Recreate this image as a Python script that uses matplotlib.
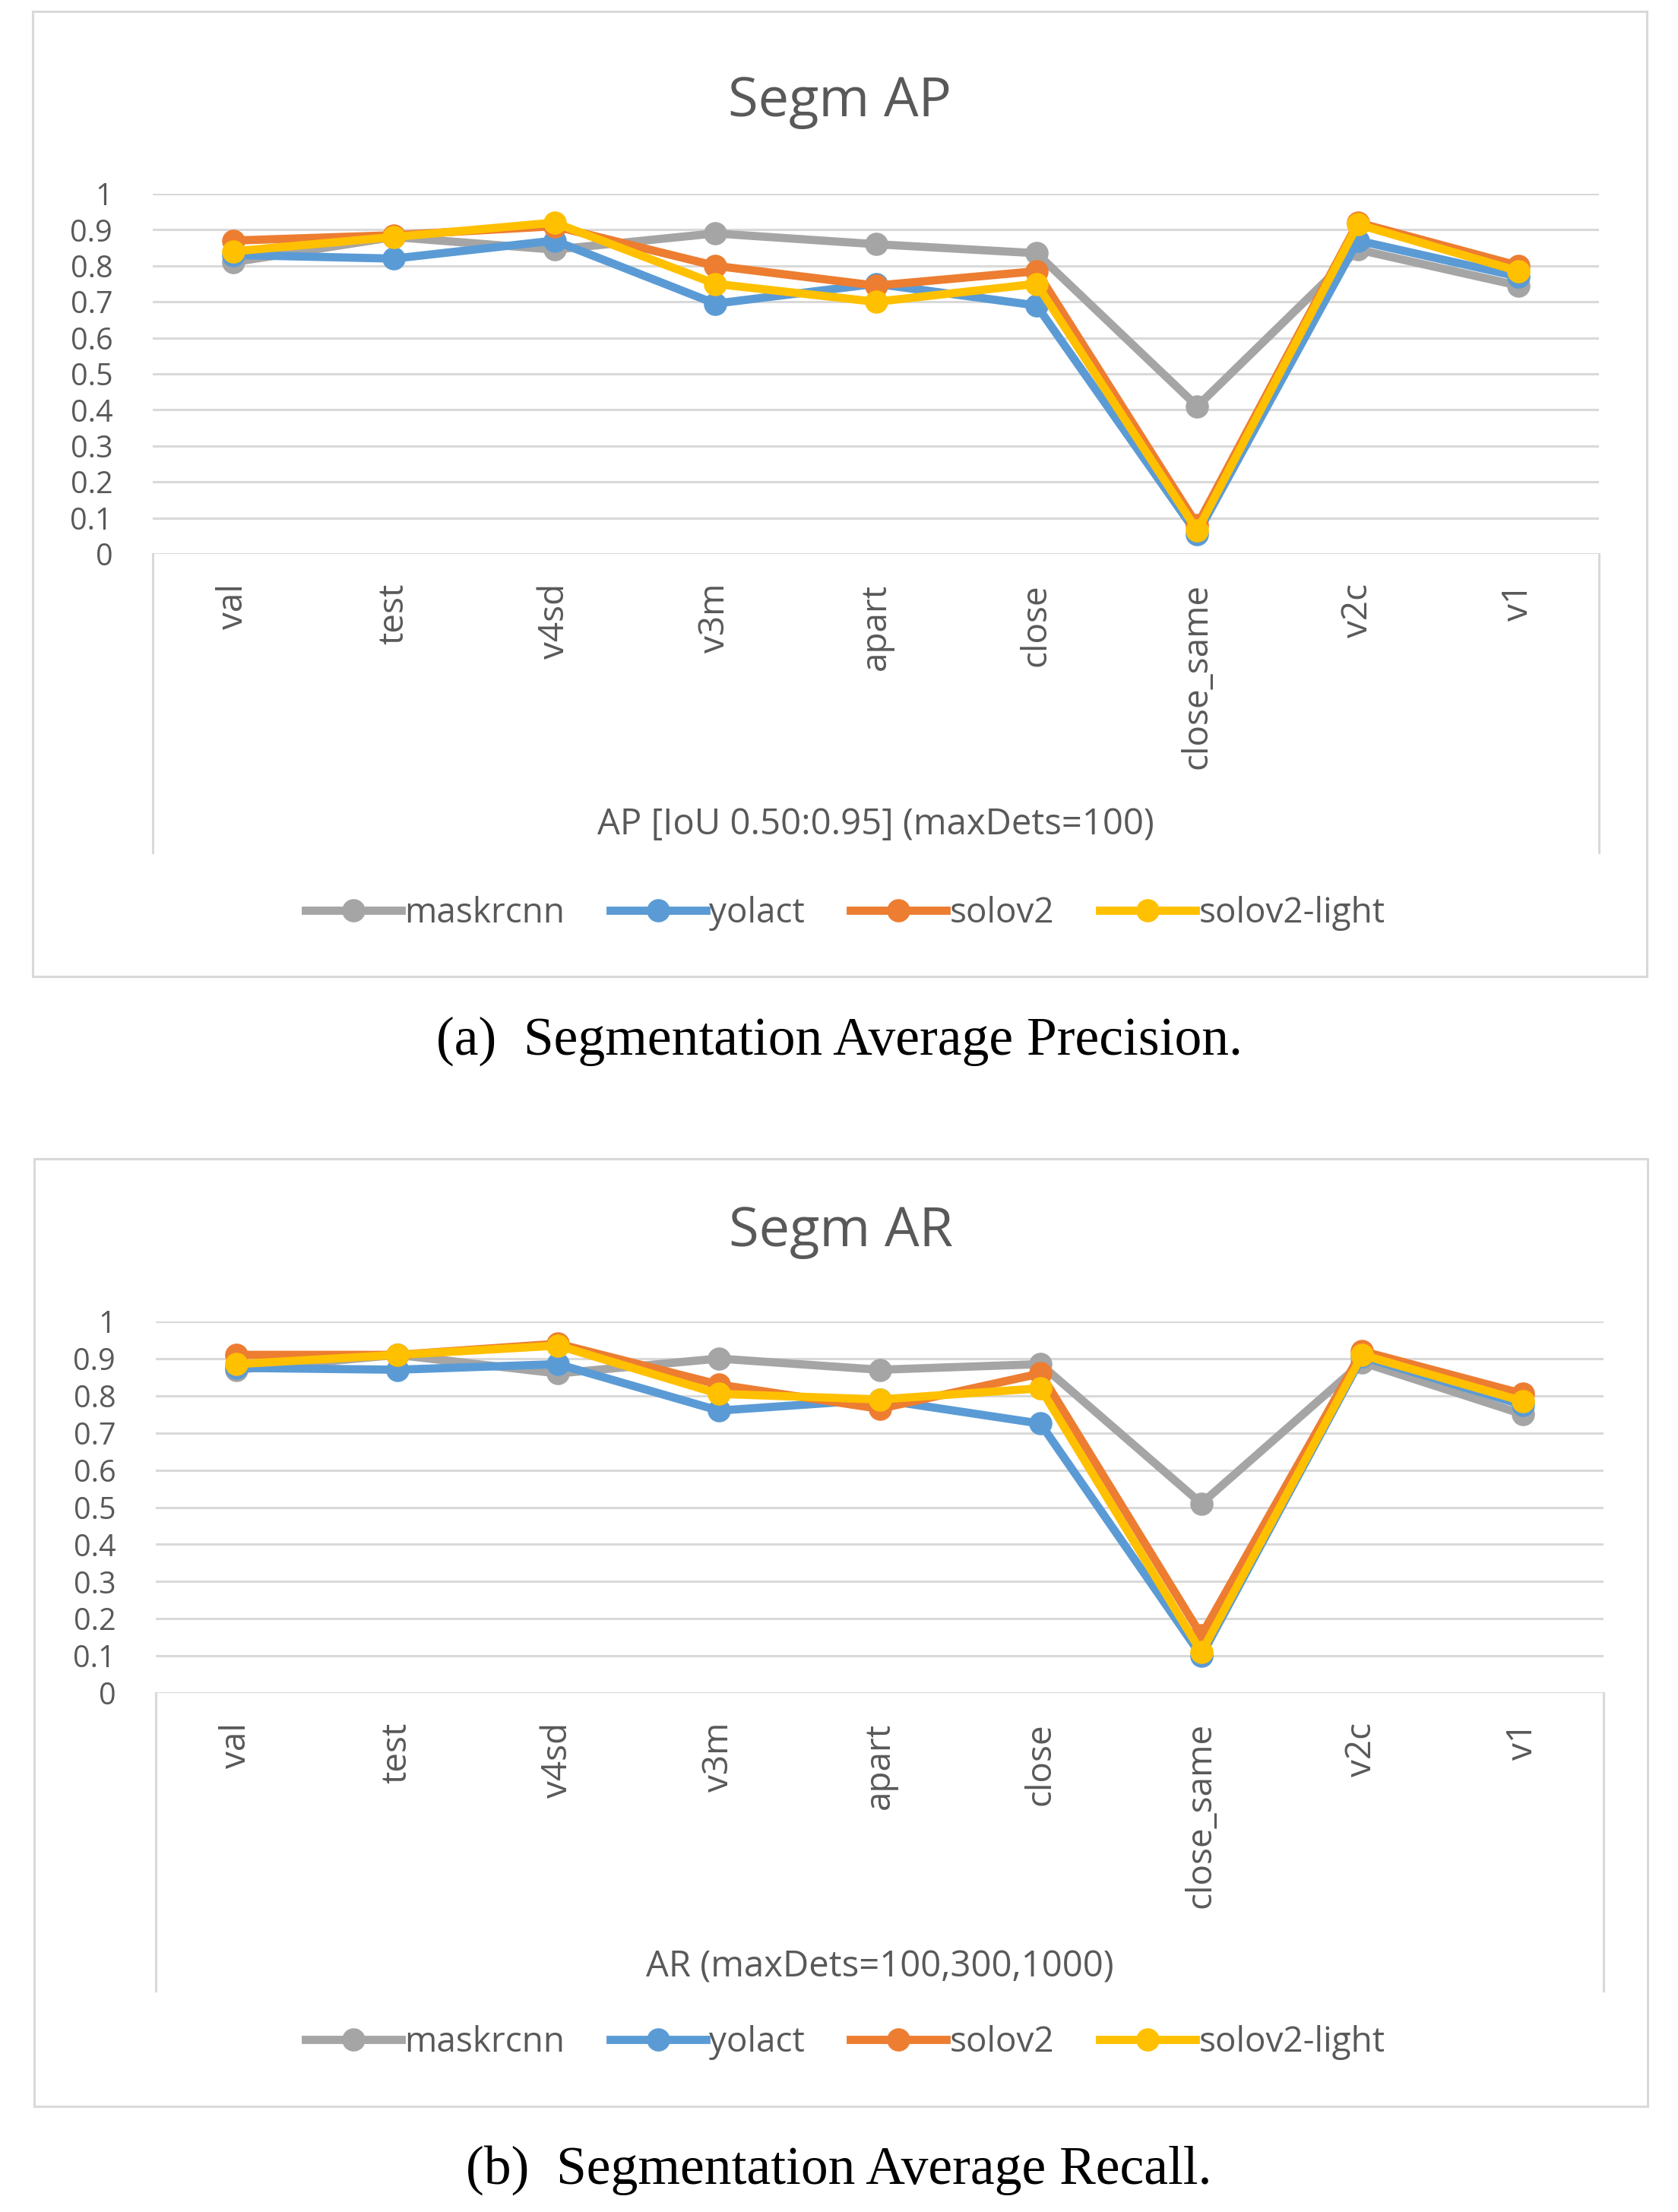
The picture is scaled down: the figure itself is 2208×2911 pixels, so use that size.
import matplotlib
matplotlib.use("Agg")
import matplotlib.pyplot as plt
from matplotlib.patches import Rectangle

plt.rcParams['font.family'] = ['Open Sans', 'DejaVu Sans']

categories = ['val', 'test', 'v4sd', 'v3m', 'apart', 'close', 'close_same', 'v2c', 'v1']
series_names = ['maskrcnn', 'yolact', 'solov2', 'solov2-light']
series_colors = ['#A5A5A5', '#5B9BD5', '#ED7D31', '#FFC000']

ap_maskrcnn = [0.81, 0.88, 0.845, 0.89, 0.86, 0.835, 0.41, 0.845, 0.745]
ap_yolact = [0.83, 0.82, 0.87, 0.695, 0.75, 0.69, 0.055, 0.87, 0.77]
ap_solov2 = [0.87, 0.885, 0.91, 0.80, 0.745, 0.785, 0.08, 0.92, 0.80]
ap_solov2_light = [0.84, 0.88, 0.92, 0.75, 0.70, 0.75, 0.065, 0.915, 0.785]

ar_maskrcnn = [0.87, 0.91, 0.86, 0.90, 0.87, 0.885, 0.51, 0.89, 0.75]
ar_yolact = [0.875, 0.87, 0.885, 0.76, 0.79, 0.725, 0.10, 0.905, 0.775]
ar_solov2 = [0.91, 0.91, 0.94, 0.83, 0.765, 0.86, 0.155, 0.92, 0.805]
ar_solov2_light = [0.885, 0.91, 0.935, 0.805, 0.79, 0.82, 0.11, 0.91, 0.785]

yticks = [0, 0.1, 0.2, 0.3, 0.4, 0.5, 0.6, 0.7, 0.8, 0.9, 1]
ytick_labels = ['0', '0.1', '0.2', '0.3', '0.4', '0.5', '0.6', '0.7', '0.8', '0.9', '1']

W, H = 2208, 2911
fig = plt.figure(figsize=(W / 100, H / 100), dpi=100)

TXT = '#595959'
GRID = '#D9D9D9'


def fx(px):
    return px / W


def fy(py):
    return 1 - py / H


def panel(box, plot, title, title_y, xlabel, xlabel_y, legend_y, line_bottom,
          caption, caption_y, data):
    bx0, by0, bx1, by1 = box
    fig.patches.append(Rectangle((fx(bx0), fy(by1)), fx(bx1) - fx(bx0), fy(by0) - fy(by1),
                                 transform=fig.transFigure, fill=False,
                                 edgecolor=GRID, linewidth=2.2))
    px0, py0, px1, py1 = plot  # left, top, right, bottom in px
    ax = fig.add_axes([fx(px0), fy(py1), fx(px1) - fx(px0), fy(py0) - fy(py1)])
    x = list(range(len(categories)))
    lines = []
    for name, color, vals in zip(series_names, series_colors, data):
        ln, = ax.plot(x, vals, color=color, linewidth=7.8, marker='o', markersize=21,
                      markerfacecolor=color, markeredgecolor=color, label=name,
                      clip_on=False, solid_joinstyle='round', zorder=3)
        lines.append(ln)
    ax.set_xlim(-0.5, len(categories) - 0.5)
    ax.set_ylim(0, 1)
    ax.set_yticks(yticks)
    ax.set_yticklabels(ytick_labels)
    ax.set_xticks(x)
    ax.set_xticklabels(categories, rotation=90, va='top', ha='center')
    ax.tick_params(axis='y', length=0, pad=38, labelsize=28.5, labelcolor=TXT)
    ax.tick_params(axis='x', length=0, pad=28, labelsize=33, labelcolor=TXT)
    for s in ax.spines.values():
        s.set_visible(False)
    ax.grid(axis='y', color=GRID, linewidth=2.2, zorder=0)
    ax.set_axisbelow(True)
    h = (line_bottom - py1) / (py1 - py0)
    for xa in (0, 1):
        ax.plot([xa, xa], [0, -h], transform=ax.transAxes, color=GRID,
                linewidth=2.2, clip_on=False, zorder=0)
    cx = (bx0 + bx1) / 2
    fig.text(fx(cx), fy(title_y), title, ha='center', va='center', fontsize=52, color=TXT)
    fig.text(fx((px0 + px1) / 2), fy(xlabel_y), xlabel, ha='center', va='center',
             fontsize=34, color=TXT)
    fig.legend(handles=lines, labels=series_names, loc='center',
               bbox_to_anchor=(fx(1112), fy(legend_y)), ncol=4, frameon=False,
               fontsize=33, labelcolor=TXT, handlelength=2.75, handletextpad=0.1,
               columnspacing=1.3, markerscale=1.0)
    fig.text(0.5, fy(caption_y), caption, ha='center', va='center', fontsize=51.5,
             color='black', family=['Liberation Serif', 'DejaVu Serif'])


panel((43, 15, 2167, 1285), (201, 255, 2104, 729), 'Segm AP', 134,
      'AP [IoU 0.50:0.95] (maxDets=100)', 1085, 1202, 1122,
      '(a)  Segmentation Average Precision.', 1370,
      [ap_maskrcnn, ap_yolact, ap_solov2, ap_solov2_light])

panel((45, 1525, 2168, 2772), (205, 1739, 2110, 2228), 'Segm AR', 1621,
      'AR (maxDets=100,300,1000)', 2589, 2688, 2620,
      '(b)  Segmentation Average Recall.', 2856,
      [ar_maskrcnn, ar_yolact, ar_solov2, ar_solov2_light])

fig.savefig('out.png', dpi=100, facecolor='white')
